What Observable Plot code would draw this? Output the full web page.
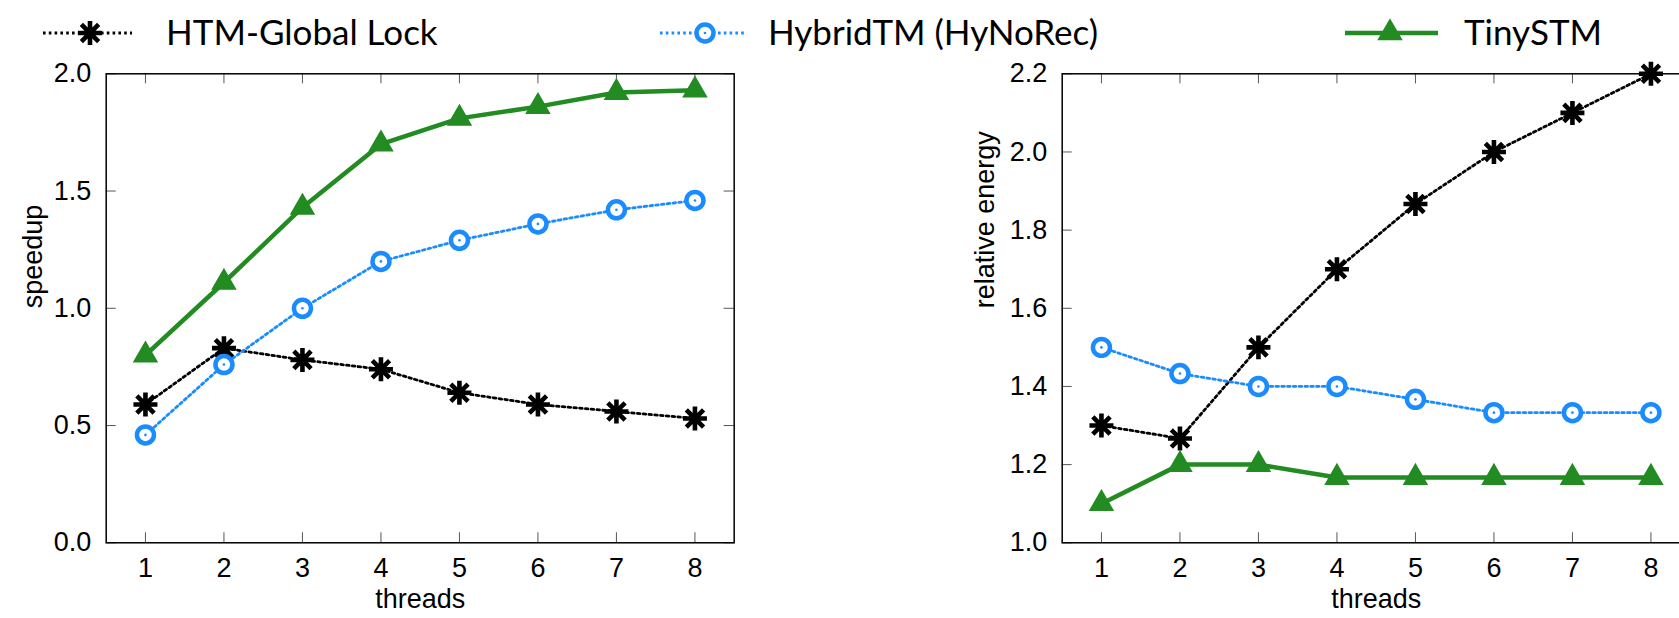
<!DOCTYPE html>
<html><head><meta charset="utf-8">
<script src="https://cdn.jsdelivr.net/npm/d3@7"></script>
<script src="https://cdn.jsdelivr.net/npm/@observablehq/plot@0.6"></script>
<style>
html,body{margin:0;padding:0;background:#fff;}
#root{position:relative;width:1679px;height:618px;overflow:hidden;background:#fff;}
#legend{position:absolute;left:0;top:0;}
.chart{position:absolute;top:56px;}
</style></head><body><div id="root"><svg id="legend" width="1679" height="56"></svg></div>
<script>
// ---------- data ----------
const threads = [1, 2, 3, 4, 5, 6, 7, 8];
const seriesNames = ["HTM-Global Lock", "HybridTM (HyNoRec)", "TinySTM"];
const speedupHTM    = [0.59, 0.83, 0.78, 0.74, 0.64, 0.59, 0.56, 0.53];
const speedupHybrid = [0.46, 0.76, 1.00, 1.20, 1.29, 1.36, 1.42, 1.46];
const speedupTiny   = [0.80, 1.11, 1.43, 1.70, 1.81, 1.86, 1.92, 1.93];
const energyHTM     = [1.30, 1.267, 1.50, 1.70, 1.867, 2.00, 2.10, 2.20];
const energyHybrid  = [1.50, 1.433, 1.40, 1.40, 1.367, 1.333, 1.333, 1.333];
const energyTiny    = [1.10, 1.20, 1.20, 1.167, 1.167, 1.167, 1.167, 1.167];
const xTicks = [1, 2, 3, 4, 5, 6, 7, 8];
const speedupTicks = [0.0, 0.5, 1.0, 1.5, 2.0];
const energyTicks = [1.0, 1.2, 1.4, 1.6, 1.8, 2.0, 2.2];
const xLabel = "threads";
const yLabels = ["speedup", "relative energy"];

// ---------- styles ----------
const C_HTM = "#000000", C_HYB = "#1a8cff", C_TINY = "#228b22";
const DOTS = "2.6,3.2";
const asterisk = {
  draw(ctx, size) {
    const r = Math.sqrt(size / Math.PI), d = r * 0.72;
    ctx.moveTo(-r, 0); ctx.lineTo(r, 0);
    ctx.moveTo(0, -r); ctx.lineTo(0, r);
    ctx.moveTo(-d, -d); ctx.lineTo(d, d);
    ctx.moveTo(-d, d); ctx.lineTo(d, -d);
  }
};
const FONT = "'Liberation Sans', Arial, Helvetica, sans-serif";

function rows(values) { return threads.map((t, i) => ({t, v: values[i]})); }

function seriesMarks(htm, hyb, tiny) {
  const a = rows(htm), b = rows(hyb), c = rows(tiny);
  return [
    Plot.line(a, {x: "t", y: "v", stroke: C_HTM, strokeWidth: 2.8, strokeDasharray: DOTS}),
    Plot.line(b, {x: "t", y: "v", stroke: C_HYB, strokeWidth: 2.8, strokeDasharray: DOTS}),
    Plot.line(c, {x: "t", y: "v", stroke: C_TINY, strokeWidth: 4.5}),
    Plot.dot(a, {x: "t", y: "v", symbol: asterisk, r: 12, fill: "none", stroke: C_HTM, strokeWidth: 4.6}),
    Plot.dot(b, {x: "t", y: "v", r: 8.5, fill: "white", stroke: C_HYB, strokeWidth: 4.5}),
    Plot.dot(b, {x: "t", y: "v", r: 1.3, fill: C_HYB, stroke: "none"}),
    Plot.dot(c, {x: "t", y: "v", symbol: "triangle", r: 8.5, fill: C_TINY, stroke: C_TINY, strokeWidth: 1.5})
  ];
}

function makeChart({left, marginLeft, yDomain, yTicks, yLabel, labelDx, htm, hyb, tiny}) {
  const W = 628, H = 469;
  const svg = Plot.plot({
    width: marginLeft + W + 20, height: 562,
    marginLeft, marginRight: 20, marginTop: 17.3, marginBottom: 75.7,
    style: {fontFamily: FONT, fontSize: "27px", background: "white", color: "black", overflow: "visible"},
    x: {domain: [0.5, 8.5]},
    y: {domain: yDomain},
    marks: [
      Plot.axisX(xTicks, {tickSize: 0, tickPadding: 15, label: null, fontSize: 27}),
      Plot.axisY(yTicks, {tickSize: 0, tickPadding: 15, label: null, fontSize: 27, tickFormat: d3.format(".1f")}),
      Plot.tickX(xTicks, {x: d => d, insetTop: H - 10, stroke: "#555"}),
      Plot.tickX(xTicks, {x: d => d, insetBottom: H - 10, stroke: "#555"}),
      Plot.tickY(yTicks, {y: d => d, insetRight: W - 10, stroke: "#555"}),
      Plot.tickY(yTicks, {y: d => d, insetLeft: W - 10, stroke: "#555"}),
      ...seriesMarks(htm, hyb, tiny),
      Plot.frame({stroke: "black", strokeWidth: 1.5}),
      Plot.text([xLabel], {frameAnchor: "bottom", dy: 65, fontSize: 27, fill: "black"}),
      Plot.text([yLabel], {frameAnchor: "left", dx: labelDx, rotate: -90, fontSize: 27, fill: "black"})
    ]
  });
  svg.classList.add("chart");
  svg.style.left = left + "px";
  svg.style.position = "absolute";
  svg.style.top = "56px";
  document.getElementById("root").appendChild(svg);
}

makeChart({left: 0, marginLeft: 105.7, yDomain: [0, 2], yTicks: speedupTicks, yLabel: yLabels[0], labelDx: -73,
  htm: speedupHTM, hyb: speedupHybrid, tiny: speedupTiny});
makeChart({left: 1000, marginLeft: 61.7, yDomain: [1, 2.2], yTicks: energyTicks, yLabel: yLabels[1], labelDx: -77,
  htm: energyHTM, hyb: energyHybrid, tiny: energyTiny});

// ---------- legend ----------
const leg = d3.select("#legend");
const LY = 33;
const items = [
  {name: seriesNames[0], x1: 43, x2: 132, sx: 90, tx: 166, color: C_HTM, dash: DOTS, w: 2.8},
  {name: seriesNames[1], x1: 660, x2: 744, sx: 705, tx: 768, color: C_HYB, dash: DOTS, w: 2.8},
  {name: seriesNames[2], x1: 1345, x2: 1438, sx: 1390, tx: 1464, color: C_TINY, dash: null, w: 4.5}
];
items.forEach((it, i) => {
  leg.append("line").attr("x1", it.x1).attr("x2", it.x2).attr("y1", LY).attr("y2", LY)
    .attr("stroke", it.color).attr("stroke-width", it.w).attr("stroke-dasharray", it.dash);
  const g = leg.append("g").attr("transform", `translate(${it.sx},${LY})`);
  if (i === 0) {
    g.append("path").attr("d", d3.symbol(asterisk, Math.PI * 12 * 12)())
      .attr("fill", "none").attr("stroke", it.color).attr("stroke-width", 4.6);
  } else if (i === 1) {
    g.append("circle").attr("r", 8.5).attr("fill", "white").attr("stroke", it.color).attr("stroke-width", 4.5);
    g.append("circle").attr("r", 1.3).attr("fill", it.color);
  } else {
    g.append("path").attr("d", d3.symbol(d3.symbolTriangle, Math.PI * 8.5 * 8.5)())
      .attr("fill", it.color).attr("stroke", it.color).attr("stroke-width", 1.5);
  }
  leg.append("text").attr("x", it.tx).attr("y", 45).text(it.name)
    .attr("font-family", "Lato, 'Open Sans', sans-serif").attr("font-size", 35).attr("fill", "black");
});
</script></body></html>
